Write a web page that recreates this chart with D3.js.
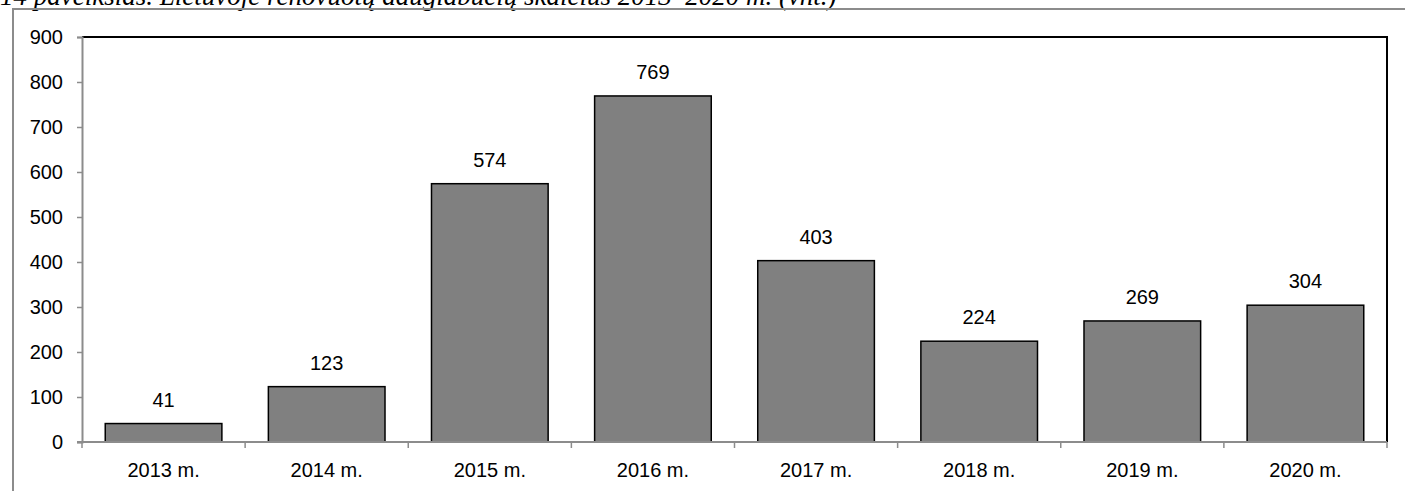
<!DOCTYPE html>
<html>
<head>
<meta charset="utf-8">
<script src="https://cdn.jsdelivr.net/npm/d3@7"></script>
<style>
  html, body { margin: 0; padding: 0; background: #fff; }
  svg { display: block; }
</style>
</head>
<body>
<svg id="chart" width="1405" height="491"></svg>
<script>
// Renovated apartment buildings in Lithuania, by year
const years = ["2013 m.", "2014 m.", "2015 m.", "2016 m.", "2017 m.", "2018 m.", "2019 m.", "2020 m."];
const renovated = [41, 123, 574, 769, 403, 224, 269, 304];
const yTicks = [0, 100, 200, 300, 400, 500, 600, 700, 800, 900];
const title = "14 paveikslas. Lietuvoje renovuotų daugiabučių skaičius 2013–2020 m. (vnt.)";

const svg = d3.select("#chart");
const plot = { left: 82, top: 37, right: 1387, bottom: 442 };
const sans = "'Liberation Sans', Arial, sans-serif";
const fontSize = 20;

// Caption above the frame
svg.append("text")
  .attr("x", 0).attr("y", 5)
  .attr("font-family", "'Liberation Serif', 'Times New Roman', serif")
  .attr("font-style", "italic")
  .attr("font-size", 27)
  .attr("fill", "#000")
  .text(title);

// Outer frame (gray)
svg.append("path")
  .attr("d", `M13,491 L13,9 L1405,9`)
  .attr("fill", "none")
  .attr("stroke", "#8c8c8c")
  .attr("stroke-width", 2);

const x = d3.scaleBand()
  .domain(years)
  .range([plot.left, plot.right])
  .paddingInner(0.285)
  .paddingOuter(0.1425);

const xCat = d3.scaleBand().domain(years).range([plot.left, plot.right]).padding(0);

const y = d3.scaleLinear().domain([0, 900]).range([plot.bottom, plot.top]);

// Plot area border: black top and right
svg.append("path")
  .attr("d", `M${plot.left},${plot.top} L${plot.right},${plot.top} L${plot.right},${plot.bottom}`)
  .attr("fill", "none")
  .attr("stroke", "#000")
  .attr("stroke-width", 2);

// Bars
svg.append("g").selectAll("rect")
  .data(renovated)
  .join("rect")
  .attr("x", (d, i) => x(years[i]))
  .attr("y", d => y(d))
  .attr("width", x.bandwidth())
  .attr("height", d => y(0) - y(d))
  .attr("fill", "#808080")
  .attr("stroke", "#000")
  .attr("stroke-width", 1.5);

// Value labels
svg.append("g").selectAll("text")
  .data(renovated)
  .join("text")
  .attr("x", (d, i) => x(years[i]) + x.bandwidth() / 2)
  .attr("y", d => y(d) - 17)
  .attr("text-anchor", "middle")
  .attr("font-family", sans)
  .attr("font-size", fontSize)
  .attr("fill", "#000")
  .text(d => d);

// Y axis
const yAxis = svg.append("g")
  .attr("transform", `translate(${plot.left},0)`)
  .call(d3.axisLeft(y).tickValues(yTicks).tickSize(5).tickPadding(14).tickFormat(d3.format("d")));
yAxis.select(".domain").attr("stroke", "#8c8c8c").attr("stroke-width", 2);
yAxis.selectAll(".tick line").attr("stroke", "#8c8c8c").attr("stroke-width", 1.5);
yAxis.selectAll(".tick text")
  .attr("font-family", sans)
  .attr("font-size", fontSize)
  .attr("fill", "#000");

// X axis with ticks at category boundaries
const xAxisG = svg.append("g").attr("transform", `translate(0,${plot.bottom})`);
xAxisG.append("line")
  .attr("x1", plot.left - 5).attr("x2", plot.right)
  .attr("stroke", "#8c8c8c").attr("stroke-width", 2);
const boundaries = years.map(c => xCat(c)).concat([plot.right]);
xAxisG.selectAll("line.tick")
  .data(boundaries)
  .join("line")
  .attr("class", "tick")
  .attr("x1", d => d).attr("x2", d => d)
  .attr("y1", 0).attr("y2", 6)
  .attr("stroke", "#8c8c8c").attr("stroke-width", 1.5);
xAxisG.selectAll("text")
  .data(years)
  .join("text")
  .attr("x", d => xCat(d) + xCat.bandwidth() / 2)
  .attr("y", 34.5)
  .attr("text-anchor", "middle")
  .attr("font-family", sans)
  .attr("font-size", fontSize)
  .attr("fill", "#000")
  .text(d => d);
</script>
</body>
</html>
